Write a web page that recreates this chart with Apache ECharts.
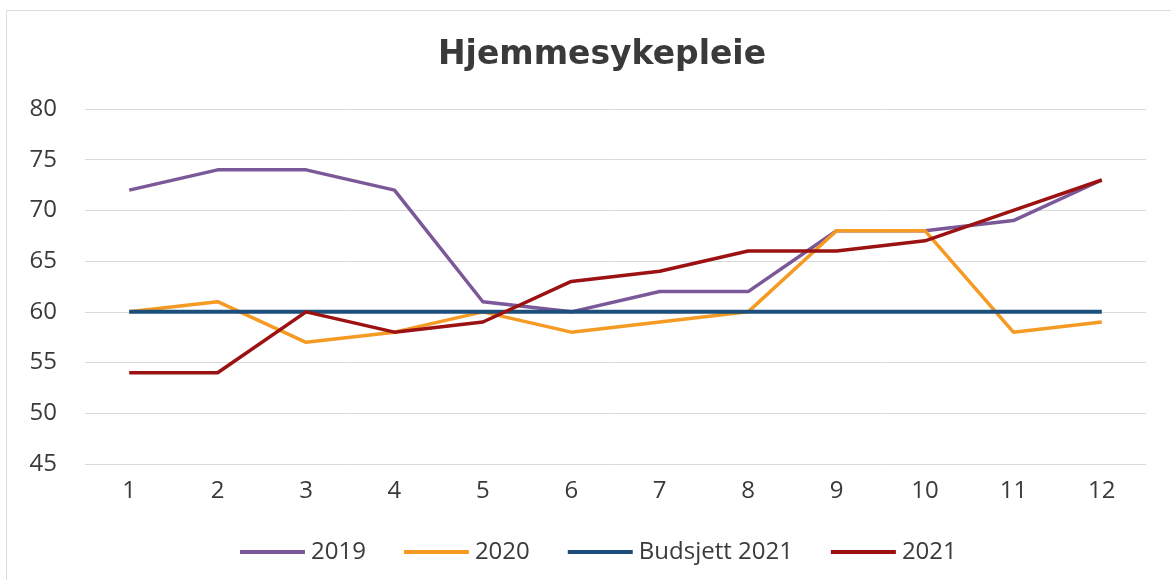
<!DOCTYPE html>
<html>
<head>
<meta charset="utf-8">
<script src="https://cdn.jsdelivr.net/npm/echarts@6/dist/echarts.min.js"></script>
<style>
html,body{margin:0;padding:0;background:#fff;}
#chart{width:1171px;height:580px;}
#frame{position:absolute;left:6px;top:10px;width:1175px;height:580px;border:1px solid #dcdcdc;box-sizing:border-box;pointer-events:none;}
</style>
</head>
<body>
<div id="chart"></div>
<div id="frame"></div>
<script>
const categories = ['1','2','3','4','5','6','7','8','9','10','11','12'];
const s2019 = [72, 74, 74, 72, 61, 60, 62, 62, 68, 68, 69, 73];
const s2020 = [60, 61, 57, 58, 60, 58, 59, 60, 68, 68, 58, 59];
const sBudsjett = [60, 60, 60, 60, 60, 60, 60, 60, 60, 60, 60, 60];
const s2021 = [54, 54, 60, 58, 59, 63, 64, 66, 66, 67, 70, 73];
const seriesNames = ['2019', '2020', 'Budsjett 2021', '2021'];
const colors = ['#7B5897', '#F59A23', '#1D4F7C', '#9C1111'];

const chart = echarts.init(document.getElementById('chart'));
const data = [s2019, s2020, sBudsjett, s2021];
chart.setOption({
  animation: false,
  title: {
    text: 'Hjemmesykepleie',
    left: 597,
    textAlign: 'center',
    top: 34,
    textStyle: {fontFamily: 'DejaVu Sans', fontWeight: 'bold', fontSize: 33, color: '#3a3a3a'}
  },
  legend: {
    data: seriesNames,
    left: 235,
    top: 535,
    icon: 'rect',
    itemWidth: 65,
    itemHeight: 4,
    itemGap: 38,
    textStyle: {fontFamily: 'Open Sans', fontSize: 24, color: '#3a3a3a', padding: [0,0,0,1]}
  },
  grid: {left: 85, right: 25, top: 109, bottom: 116, containLabel: false},
  xAxis: {
    type: 'category',
    data: categories,
    boundaryGap: true,
    axisLine: {show: false},
    axisTick: {show: false},
    axisLabel: {fontFamily: 'Open Sans', fontSize: 24, color: '#3a3a3a', margin: 15}
  },
  yAxis: {
    type: 'value',
    min: 45, max: 80, interval: 5,
    axisLine: {show: false},
    axisTick: {show: false},
    splitLine: {lineStyle: {color: '#d9d9d9', width: 1}},
    axisLabel: {fontFamily: 'Open Sans', fontSize: 24, color: '#3a3a3a', margin: 28}
  },
  series: seriesNames.map((n, i) => ({
    name: n,
    type: 'line',
    data: data[i],
    symbol: 'none',
    z: i === 2 ? 3 : (i === 3 ? 4 : 2),
    lineStyle: {color: colors[i], width: i === 2 ? 4 : 3.5},
    itemStyle: {color: colors[i]}
  }))
});
</script>
</body>
</html>
